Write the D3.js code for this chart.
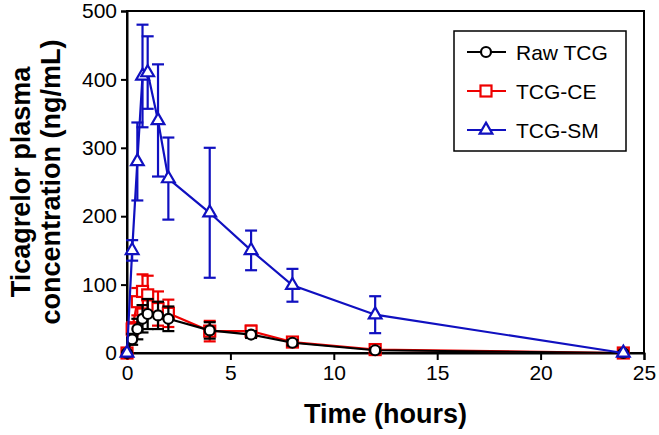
<!DOCTYPE html>
<html>
<head>
<meta charset="utf-8">
<script src="https://cdn.jsdelivr.net/npm/d3@7"></script>
<style>
  body { margin: 0; background: #fff; }
  svg { font-family: "Liberation Sans", Arial, sans-serif; }
</style>
</head>
<body>
<div class="container"></div>
<script>
const width = 659, height = 435;

// time points (hours)
const times = [0, 0.25, 0.5, 0.75, 1, 1.5, 2, 4, 6, 8, 12, 24];

// mean plasma concentration (ng/mL) and SD
const rawMean = [0, 20, 35, 50, 57, 55, 50, 33, 27, 15, 4, 0];
const rawSd   = [0, 8, 15, 20, 22, 20, 18, 12, 5, 4, 3, 0];
const ceMean  = [0, 35, 75, 90, 85, 65, 58, 32, 32, 16, 5, 0];
const ceSd    = [0, 10, 20, 25, 28, 25, 20, 15, 8, 5, 3, 0];
const smMean  = [0, 150, 280, 405, 410, 340, 255, 205, 150, 99, 56, 0];
const smSd    = [0, 15, 57, 75, 53, 82, 60, 95, 29, 24, 27, 0];

const xTicks = [0, 5, 10, 15, 20, 25];
const yTicks = [0, 100, 200, 300, 400, 500];

const series = [
  { name: "TCG-CE", mean: ceMean, sd: ceSd, color: "#ee0000", shape: "square" },
  { name: "Raw TCG", mean: rawMean, sd: rawSd, color: "#000000", shape: "circle" },
  { name: "TCG-SM", mean: smMean, sd: smSd, color: "#1010c0", shape: "triangle" }
];
const legendOrder = ["Raw TCG", "TCG-CE", "TCG-SM"];

const margin = { left: 127, top: 11, right: 15, bottom: 82 };
const plotW = width - margin.left - margin.right;
const plotH = height - margin.top - margin.bottom;

const x = d3.scaleLinear().domain([0, 25]).range([0, plotW]);
const y = d3.scaleLinear().domain([0, 500]).range([plotH, 0]);

const svg = d3.select(".container")
  .append("svg")
  .attr("width", width)
  .attr("height", height);

const g = svg.append("g")
  .attr("transform", `translate(${margin.left},${margin.top})`);

// frame
g.append("rect")
  .attr("width", plotW)
  .attr("height", plotH)
  .attr("fill", "none")
  .attr("stroke", "#000")
  .attr("stroke-width", 2);

const xAxis = g.append("g")
  .attr("transform", `translate(0,${plotH})`)
  .call(d3.axisBottom(x).tickValues(xTicks).tickSize(7).tickPadding(5));
const yAxis = g.append("g")
  .call(d3.axisLeft(y).tickValues(yTicks).tickSize(6).tickPadding(4));

[xAxis, yAxis].forEach(a => {
  a.select(".domain").attr("stroke-width", 2);
  a.selectAll(".tick line").attr("stroke-width", 2);
  a.selectAll("text")
    .attr("font-size", 21)
    .attr("fill", "#000")
    .style("font-family", "'Liberation Sans', Arial, sans-serif");
});

function marker(sel, shape, color) {
  if (shape === "circle") {
    sel.append("circle").attr("r", 5);
  } else if (shape === "square") {
    sel.append("rect").attr("x", -5.5).attr("y", -5.5).attr("width", 11).attr("height", 11);
  } else {
    sel.append("path").attr("d", d3.symbol(d3.symbolTriangle, 70)());
  }
  sel.selectAll("*")
    .attr("fill", "#fff")
    .attr("stroke", color)
    .attr("stroke-width", 2.2);
}

const line = d3.line()
  .x(d => x(d.t))
  .y(d => y(d.m));

series.forEach(s => {
  const pts = times.map((t, i) => ({ t, m: s.mean[i], sd: s.sd[i] }));
  const sg = g.append("g");

  // error bars
  const eb = sg.selectAll(".err")
    .data(pts.filter(d => d.sd > 0))
    .join("g");
  eb.append("line")
    .attr("x1", d => x(d.t)).attr("x2", d => x(d.t))
    .attr("y1", d => y(d.m - d.sd)).attr("y2", d => y(d.m + d.sd));
  eb.append("line")
    .attr("x1", d => x(d.t) - 6).attr("x2", d => x(d.t) + 6)
    .attr("y1", d => y(d.m + d.sd)).attr("y2", d => y(d.m + d.sd));
  eb.append("line")
    .attr("x1", d => x(d.t) - 6).attr("x2", d => x(d.t) + 6)
    .attr("y1", d => y(d.m - d.sd)).attr("y2", d => y(d.m - d.sd));
  eb.selectAll("line").attr("stroke", s.color).attr("stroke-width", 2.2);

  sg.append("path")
    .datum(pts)
    .attr("d", line)
    .attr("fill", "none")
    .attr("stroke", s.color)
    .attr("stroke-width", 2.2);

  sg.selectAll(".pt")
    .data(pts)
    .join("g")
    .attr("transform", d => `translate(${x(d.t)},${y(d.m)})`)
    .each(function () { marker(d3.select(this), s.shape, s.color); });
});

// legend
const lg = svg.append("g").attr("transform", "translate(454,31)");
lg.append("rect")
  .attr("width", 172).attr("height", 120)
  .attr("fill", "#fff").attr("stroke", "#000").attr("stroke-width", 1.5);

legendOrder.forEach((name, i) => {
  const s = series.find(d => d.name === name);
  const row = lg.append("g").attr("transform", `translate(0,${21 + i * 39})`);
  row.append("line")
    .attr("x1", 13).attr("x2", 52)
    .attr("stroke", s.color).attr("stroke-width", 2.2);
  const m = row.append("g").attr("transform", "translate(32,0)");
  marker(m, s.shape, s.color);
  row.append("text")
    .attr("x", 62).attr("y", 8)
    .attr("font-size", 21)
    .text(name);
});

// axis titles
svg.append("text")
  .attr("x", margin.left + plotW / 2)
  .attr("y", 423)
  .attr("text-anchor", "middle")
  .attr("font-size", 27)
  .attr("font-weight", "bold")
  .text("Time (hours)");

const yt = svg.append("text")
  .attr("transform", `translate(0,${margin.top + plotH / 2}) rotate(-90)`)
  .attr("text-anchor", "middle")
  .attr("font-size", 27)
  .attr("font-weight", "bold");
yt.append("tspan").attr("x", 0).attr("y", 30).text("Ticagrelor plasma");
yt.append("tspan").attr("x", 0).attr("y", 60).text("concentration (ng/mL)");
</script>
</body>
</html>
